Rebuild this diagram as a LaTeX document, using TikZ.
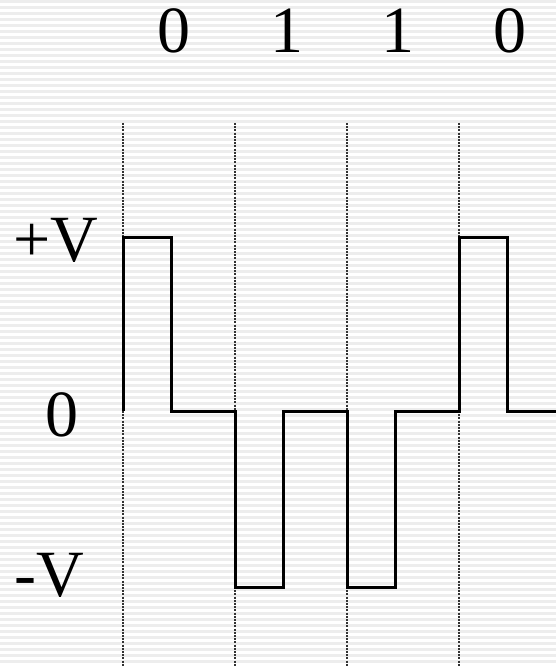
\documentclass[tikz,border=0pt]{standalone}
\usepackage{fontspec}
\setmainfont{Liberation Serif}
\begin{document}
\begin{tikzpicture}[x=1pt,y=-1pt,
  stripe/.style={fill=black!7},
  guide/.style={draw=black!80,line width=1.2pt,dash pattern=on 2pt off 1.2pt},
  wave/.style={draw=black,line width=3pt,line join=miter},
  lbl/.style={inner sep=0pt,font=\fontsize{66}{66}\selectfont}]
\useasboundingbox (0,0) rectangle (556,666);
\fill[white] (0,0) rectangle (556,666);
\foreach \i in {0,...,110} \fill[stripe] (0,6*\i) rectangle (556,6*\i+3);
% guides
\foreach \n/\x in {ga/123,gb/235,gc/347,gd/459}{
  \coordinate (\n t) at (\x,123);
  \coordinate (\n b) at (\x,666);
  \draw[guide] (\n t) -- (\n b);
}
% waveform points
\coordinate (p1) at (123,411);
\coordinate (p2) at (123,237);
\coordinate (p3) at (171,237);
\coordinate (p4) at (171,411);
\coordinate (p5) at (235,411);
\coordinate (p6) at (235,587);
\coordinate (p7) at (283,587);
\coordinate (p8) at (283,411);
\coordinate (p9) at (347,411);
\coordinate (p10) at (347,587);
\coordinate (p11) at (395,587);
\coordinate (p12) at (395,411);
\coordinate (p13) at (459,411);
\coordinate (p14) at (459,237);
\coordinate (p15) at (507,237);
\coordinate (p16) at (507,411);
\coordinate (p17) at (556,411);
\draw[wave] (p1) -- (p2) -- (p3) -- (p4) -- (p5) -- (p6) -- (p7) -- (p8) -- (p9) -- (p10) -- (p11) -- (p12) -- (p13) -- (p14) -- (p15) -- (p16) -- (p17);
% bit labels
\node[lbl] (b1) at (174,31) {0};
\node[lbl] (b2) at (287,31) {1};
\node[lbl] (b3) at (398,31) {1};
\node[lbl] (b4) at (510,31) {0};
% level labels
\node[lbl] (lp) at (56,240) {+V};
\node[lbl] (lz) at (62,415) {0};
\node[lbl] (lm) at (49,575) {-V};
\end{tikzpicture}
\end{document}
